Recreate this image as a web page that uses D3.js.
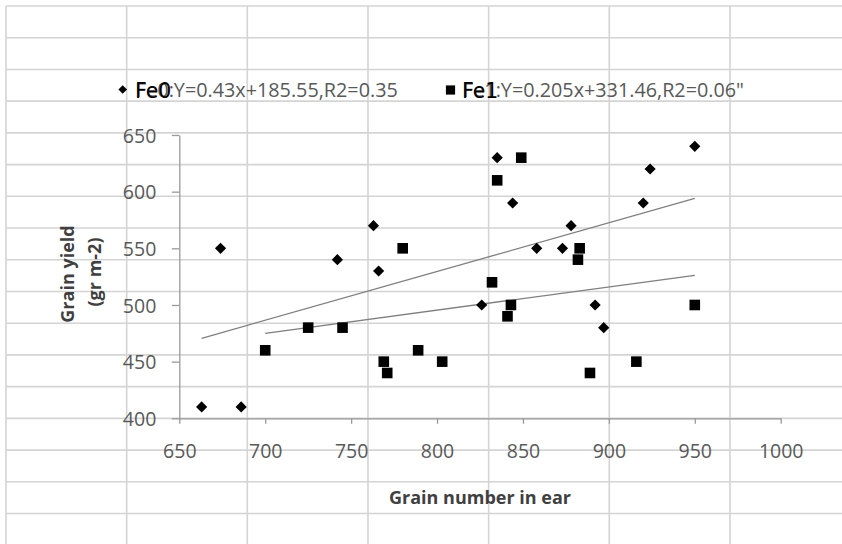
<!DOCTYPE html>
<html>
<head>
<meta charset="utf-8">
<script src="https://cdn.jsdelivr.net/npm/d3@7"></script>
<style>
  body { margin: 0; background: #fff; }
  svg { display: block; }
  .tick text { font-family: "Open Sans", sans-serif; font-size: 19.5px; fill: #595959; }
  .axis path, .axis line { stroke: #9a9a9a; stroke-width: 1.3; }
</style>
</head>
<body>
<svg width="842" height="544"></svg>
<script>
// Fe0 series (diamonds)
var fe0X = [663, 674, 686, 742, 763, 766, 826, 835, 844, 858, 873, 878, 892, 897, 920, 924, 950];
var fe0Y = [410, 550, 410, 540, 570, 530, 500, 630, 590, 550, 550, 570, 500, 480, 590, 620, 640];
// Fe1 series (squares)
var fe1X = [700, 725, 745, 769, 771, 780, 789, 803, 832, 835, 841, 843, 849, 882, 883, 889, 916, 950];
var fe1Y = [460, 480, 480, 450, 440, 550, 460, 450, 520, 610, 490, 500, 630, 540, 550, 440, 450, 500];

// trendline equations as printed in the legend
var fe0Trend = { slope: 0.43, intercept: 185.55 };
var fe1Trend = { slope: 0.205, intercept: 331.46 };

var xTicks = [650, 700, 750, 800, 850, 900, 950, 1000];
var yTicks = [400, 450, 500, 550, 600, 650];
var legendText = ["Fe0:Y=0.43x+185.55,R2=0.35", "Fe1:Y=0.205x+331.46,R2=0.06\""];
var legendNames = ["Fe0", "Fe1"];

var svg = d3.select("svg");

// spreadsheet cells behind the chart
var colW = 120.66, rowH = 31.72, gridOrigin = 6;
var grid = svg.append("g").attr("stroke", "#d4d4d4").attr("stroke-width", 1.6);
for (var c = 0; gridOrigin + c * colW < 842; c++) {
  grid.append("line")
    .attr("x1", gridOrigin + c * colW).attr("x2", gridOrigin + c * colW)
    .attr("y1", gridOrigin).attr("y2", 544);
}
for (var r = 0; gridOrigin + r * rowH < 544; r++) {
  grid.append("line")
    .attr("x1", gridOrigin).attr("x2", 842)
    .attr("y1", gridOrigin + r * rowH).attr("y2", gridOrigin + r * rowH);
}

var x = d3.scaleLinear().domain([650, 1000]).range([179.3, 780.7]);
var y = d3.scaleLinear().domain([400, 650]).range([418.3, 135]);

// axes
var yAxis = svg.append("g")
  .attr("class", "axis")
  .attr("transform", "translate(" + x(650) + ",0)")
  .call(d3.axisLeft(y).tickValues(yTicks).tickFormat(d3.format("d"))
    .tickSize(7.5).tickSizeOuter(0).tickPadding(15.5));
yAxis.selectAll("text").attr("dy", "0.36em");

var xAxis = svg.append("g")
  .attr("class", "axis")
  .attr("transform", "translate(0," + y(400) + ")")
  .call(d3.axisBottom(x).tickValues(xTicks).tickFormat(d3.format("d"))
    .tickSize(5.5).tickSizeOuter(0));
xAxis.selectAll("text").attr("y", 40).attr("dy", 0);

// trendlines from each series' x extent
function trendLine(xs, t) {
  var ext = d3.extent(xs);
  return ext.map(function (v) { return [x(v), y(t.slope * v + t.intercept)]; });
}
svg.append("path")
  .attr("d", d3.line()(trendLine(fe0X, fe0Trend)))
  .attr("stroke", "#7f7f7f").attr("stroke-width", 1.3).attr("fill", "none");
svg.append("path")
  .attr("d", d3.line()(trendLine(fe1X, fe1Trend)))
  .attr("stroke", "#7f7f7f").attr("stroke-width", 1.3).attr("fill", "none");

function diamond(s) { return "M0," + (-s) + "L" + s + ",0L0," + s + "L" + (-s) + ",0Z"; }
function square(s) { return "M" + (-s) + "," + (-s) + "h" + (2 * s) + "v" + (2 * s) + "h" + (-2 * s) + "Z"; }

svg.append("g").selectAll("path")
  .data(d3.zip(fe0X, fe0Y))
  .enter().append("path")
  .attr("d", diamond(5.6))
  .attr("transform", function (d) { return "translate(" + x(d[0]) + "," + y(d[1]) + ")"; })
  .attr("fill", "#000");

svg.append("g").selectAll("path")
  .data(d3.zip(fe1X, fe1Y))
  .enter().append("path")
  .attr("d", square(5.3))
  .attr("transform", function (d) { return "translate(" + x(d[0]) + "," + y(d[1]) + ")"; })
  .attr("fill", "#000");

// legend (black series name sits on top of the grey trendline label, as in the source)
var legend = svg.append("g");
legend.append("path").attr("d", diamond(4.3)).attr("transform", "translate(122.7,89.5)");
legend.append("path").attr("d", square(4.6)).attr("transform", "translate(450.5,90)");
[136, 463].forEach(function (lx, i) {
  legend.append("text")
    .attr("x", lx).attr("y", 96.8)
    .style("font-family", "'Open Sans', sans-serif").style("font-size", "19.8px")
    .attr("fill", "#595959")
    .text(legendText[i]);
  legend.append("text")
    .attr("x", lx - 1).attr("y", 98.3)
    .style("font-family", "'DejaVu Sans', sans-serif").style("font-size", "20.5px")
    .attr("fill", "#000")
    .text(legendNames[i]);
});

// axis titles
svg.append("text")
  .attr("x", 480).attr("y", 504)
  .attr("text-anchor", "middle")
  .style("font-family", "'Open Sans', sans-serif").style("font-size", "18px").style("font-weight", "bold")
  .attr("fill", "#404040")
  .text("Grain number in ear");

var yTitle = svg.append("g").attr("transform", "translate(0,274) rotate(-90)");
yTitle.append("text")
  .attr("x", 0).attr("y", 74)
  .attr("text-anchor", "middle")
  .style("font-family", "'Open Sans', sans-serif").style("font-size", "18px").style("font-weight", "bold")
  .attr("fill", "#404040")
  .text("Grain yield");
yTitle.append("text")
  .attr("x", 2).attr("y", 101)
  .attr("text-anchor", "middle")
  .style("font-family", "'Open Sans', sans-serif").style("font-size", "18px").style("font-weight", "bold")
  .attr("fill", "#404040")
  .text("(gr m-2)");
</script>
</body>
</html>
